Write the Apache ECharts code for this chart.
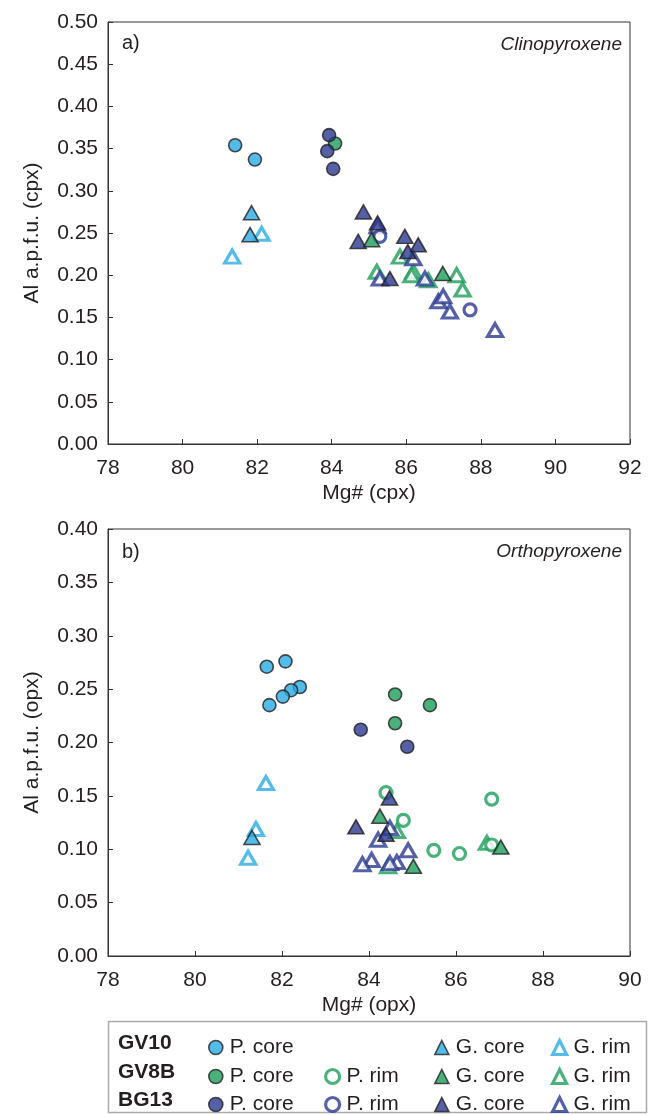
<!DOCTYPE html>
<html>
<head>
<meta charset="utf-8">
<script src="https://cdn.jsdelivr.net/npm/echarts@6/dist/echarts.min.js"></script>
<style>
  html, body { margin: 0; padding: 0; background: #fff; }
  #chart { width: 668px; height: 1115px; }
</style>
</head>
<body>
<div id="chart"></div>
<script>
// axis ticks
var cpxXTicks = [78, 92, 2];
var cpxYTicks = [0, 0.5, 0.05];
var opxXTicks = [78, 90, 2];
var opxYTicks = [0, 0.4, 0.05];

// a) clinopyroxene  [Mg#, Al]
var cpxGV10PCore = [[81.41, 0.354], [81.94, 0.337]];
var cpxGV10GCore = [[81.85, 0.274], [81.81, 0.248]];
var cpxGV10GRim = [[82.12, 0.249], [81.33, 0.222]];
var cpxGV8BPCore = [[84.09, 0.356]];
var cpxGV8BPRim = [];
var cpxGV8BGCore = [[85.07, 0.242], [86.98, 0.202]];
var cpxGV8BGRim = [[85.83, 0.222], [85.21, 0.204], [86.19, 0.204], [86.14, 0.200], [86.59, 0.194], [87.35, 0.200], [87.51, 0.183]];
var cpxBG13PCore = [[83.93, 0.366], [83.88, 0.347], [84.04, 0.326]];
var cpxBG13PRim = [[85.29, 0.246], [87.71, 0.159]];
var cpxBG13GCore = [[84.85, 0.275], [85.23, 0.262], [84.71, 0.240], [85.96, 0.246], [86.32, 0.236], [86.04, 0.228], [85.56, 0.196]];
var cpxBG13GRim = [[85.23, 0.258], [86.19, 0.220], [85.29, 0.196], [86.50, 0.196], [86.86, 0.169], [86.99, 0.175], [87.17, 0.157], [88.38, 0.135]];

// b) orthopyroxene  [Mg#, Al]
var opxGV10PCore = [[81.65, 0.271], [82.08, 0.276], [82.41, 0.252], [82.21, 0.249], [82.02, 0.243], [81.71, 0.235]];
var opxGV10GCore = [[81.31, 0.111]];
var opxGV10GRim = [[81.63, 0.162], [81.40, 0.119], [81.22, 0.092]];
var opxGV8BPCore = [[84.60, 0.245], [85.40, 0.235], [84.60, 0.218]];
var opxGV8BPRim = [[84.39, 0.153], [84.79, 0.127], [85.49, 0.099], [86.08, 0.096], [86.82, 0.147], [86.82, 0.104]];
var opxGV8BGCore = [[84.25, 0.131], [87.03, 0.102], [85.02, 0.084]];
var opxGV8BGRim = [[84.64, 0.117], [86.71, 0.106], [84.44, 0.084]];
var opxBG13PCore = [[83.81, 0.212], [84.88, 0.196]];
var opxBG13PRim = [];
var opxBG13GCore = [[84.47, 0.148], [84.39, 0.114], [83.70, 0.121]];
var opxBG13GRim = [[84.48, 0.120], [84.21, 0.109], [84.90, 0.099], [84.64, 0.088], [84.48, 0.087], [84.06, 0.090], [83.85, 0.086]];

var samples = ['GV10', 'GV8B', 'BG13'];
var kinds = ['P. core', 'P. rim', 'G. core', 'G. rim'];

var FONT = 'Liberation Sans, Arial, sans-serif';
var INK = '#231f20';
var sampleColor = { 'GV10': '#29abe2', 'GV8B': '#1e9e5a', 'BG13': '#2b3990' };

function styleFor(sample, kind) {
  var c = sampleColor[sample];
  var hollow = kind.indexOf('rim') >= 0;
  var tri = kind.indexOf('G.') === 0;
  return {
    symbol: tri ? 'triangle' : 'circle',
    symbolSize: tri ? (hollow ? [15, 13] : [16, 14]) : (hollow ? 12 : 13),
    itemStyle: hollow
      ? { color: '#fff', borderColor: c, borderWidth: 3.2 }
      : { color: c, borderColor: INK, borderWidth: 1.6 }
  };
}

var cpxData = {
  'GV10': [cpxGV10PCore, null, cpxGV10GCore, cpxGV10GRim],
  'GV8B': [cpxGV8BPCore, cpxGV8BPRim, cpxGV8BGCore, cpxGV8BGRim],
  'BG13': [cpxBG13PCore, cpxBG13PRim, cpxBG13GCore, cpxBG13GRim]
};
var opxData = {
  'GV10': [opxGV10PCore, null, opxGV10GCore, opxGV10GRim],
  'GV8B': [opxGV8BPCore, opxGV8BPRim, opxGV8BGCore, opxGV8BGRim],
  'BG13': [opxBG13PCore, opxBG13PRim, opxBG13GCore, opxBG13GRim]
};

// draw order: rims below cores
var drawOrder = [3, 1, 2, 0];
var series = [];
[cpxData, opxData].forEach(function (set, gi) {
  drawOrder.forEach(function (k) {
    samples.forEach(function (s) {
      var d = set[s][k];
      if (!d) return;
      var st = styleFor(s, kinds[k]);
      series.push({
        type: 'scatter',
        name: s + '|' + kinds[k],
        xAxisIndex: gi,
        yAxisIndex: gi,
        data: d,
        symbol: st.symbol,
        symbolSize: st.symbolSize,
        itemStyle: st.itemStyle,
        emphasis: { disabled: true }
      });
    });
  });
});

function xAx(t, gi, title) {
  return {
    gridIndex: gi, type: 'value', min: t[0], max: t[1], interval: t[2],
    name: title, nameLocation: 'middle', nameGap: 39,
    nameTextStyle: { fontSize: 21, color: INK, fontFamily: FONT },
    axisLine: { onZero: false, lineStyle: { color: '#333', width: 1 } },
    axisTick: { inside: true, length: 5, lineStyle: { color: '#333' } },
    axisLabel: { fontSize: 21, color: INK, fontFamily: FONT, margin: 14 },
    splitLine: { show: false }
  };
}
function yAx(t, gi, title) {
  return {
    gridIndex: gi, type: 'value', min: t[0], max: t[1], interval: t[2],
    name: title, nameLocation: 'middle', nameGap: 65,
    nameTextStyle: { fontSize: 21, color: INK, fontFamily: FONT },
    axisLine: { onZero: false, lineStyle: { color: '#333', width: 1 } },
    axisTick: { inside: true, length: 5, lineStyle: { color: '#333' } },
    axisLabel: { fontSize: 21, color: INK, fontFamily: FONT, margin: 10,
      formatter: function (v) { return v.toFixed(2); } },
    splitLine: { show: false }
  };
}

// legend cells: marker centre x per column, row centre y
var legendCols = [210, 326, 436, 553];
var legendRows = [1043, 1072, 1100];
var legends = [];
samples.forEach(function (s, ri) {
  kinds.forEach(function (k, ki) {
    if (s === 'GV10' && ki === 1) return;
    var st = styleFor(s, k);
    legends.push({
      left: legendCols[ki] - 7, top: legendRows[ri] - 11,
      data: [s + '|' + k],
      selectedMode: false,
      itemWidth: 14, itemHeight: 14,
      itemStyle: st.itemStyle,
      textStyle: { fontSize: 21, color: INK, fontFamily: FONT, padding: [0, 0, 0, 2] },
      formatter: function (n) { return n.split('|')[1]; }
    });
  });
});

var graphics = [
  { type: 'rect', shape: { x: 108.5, y: 1021.5, width: 538, height: 91 },
    style: { fill: 'none', stroke: '#aaa', lineWidth: 1.5 }, silent: true },
  { type: 'text', x: 122, y: 43, style: { text: 'a)', font: '20px ' + FONT, fill: INK, verticalAlign: 'middle' } },
  { type: 'text', x: 622, y: 45, style: { text: 'Clinopyroxene', font: 'italic 19px ' + FONT, fill: INK, align: 'right', verticalAlign: 'middle' } },
  { type: 'text', x: 122, y: 552, style: { text: 'b)', font: '20px ' + FONT, fill: INK, verticalAlign: 'middle' } },
  { type: 'text', x: 622, y: 552, style: { text: 'Orthopyroxene', font: 'italic 19px ' + FONT, fill: INK, align: 'right', verticalAlign: 'middle' } }
];
samples.forEach(function (s, ri) {
  graphics.push({ type: 'text', x: 118, y: legendRows[ri],
    style: { text: s, font: 'bold 21px ' + FONT, fill: INK, verticalAlign: 'middle' } });
});

var chart = echarts.init(document.getElementById('chart'), null, { renderer: 'canvas' });
chart.setOption({
  animation: false,
  backgroundColor: '#fff',
  grid: [
    { left: 108, top: 22, width: 522, height: 422, show: true, borderColor: '#333', borderWidth: 1 },
    { left: 108, top: 529, width: 522, height: 427, show: true, borderColor: '#333', borderWidth: 1 }
  ],
  xAxis: [xAx(cpxXTicks, 0, 'Mg# (cpx)'), xAx(opxXTicks, 1, 'Mg# (opx)')],
  yAxis: [yAx(cpxYTicks, 0, 'Al a.p.f.u. (cpx)'), yAx(opxYTicks, 1, 'Al a.p.f.u. (opx)')],
  legend: legends,
  graphic: graphics,
  series: series
});
</script>
</body>
</html>
